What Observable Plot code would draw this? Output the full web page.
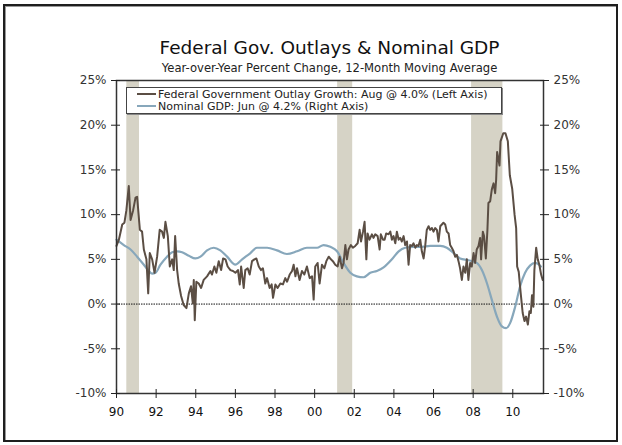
<!DOCTYPE html>
<html>
<head>
<meta charset="utf-8">
<script src="https://cdn.jsdelivr.net/npm/d3@7"></script>
<script src="https://cdn.jsdelivr.net/npm/@observablehq/plot@0.6"></script>
<style>
  html, body { margin: 0; padding: 0; background: #fff; }
  #wrap { position: relative; width: 622px; height: 445px; overflow: hidden; font-family: "DejaVu Sans", Verdana, sans-serif; color: #222; }
  #frame { position: absolute; left: 3px; top: 4px; width: 615px; height: 438px; box-sizing: border-box; border: 2px solid #1e1e1e; box-shadow: inset 1px 1px 0 #999; }
  #title { position: absolute; left: 116px; width: 427px; top: 37px; text-align: center; font-size: 18.5px; color: #111; white-space: nowrap; }
  #subtitle { position: absolute; left: 116px; width: 427px; top: 61px; text-align: center; font-size: 11.6px; color: #222; white-space: nowrap; }
  #chart { position: absolute; left: 0; top: 0; }
  #legend { position: absolute; left: 126px; top: 87px; width: 376px; height: 27px; box-sizing: border-box; border: 1px solid #444; background: #fff; font-size: 11px; color: #222; box-shadow: 1px 1px 0 #888; }
  .row { position: absolute; left: 10px; height: 13px; line-height: 13px; white-space: nowrap; }
  .sw { display: inline-block; width: 19px; height: 2px; vertical-align: middle; margin-right: 2px; position: relative; top: -1px; }
</style>
</head>
<body>
<div id="wrap">
  <div id="frame"></div>
  <div id="chart"></div>
  <div id="title">Federal Gov. Outlays &amp; Nominal GDP</div>
  <div id="subtitle">Year-over-Year Percent Change, 12-Month Moving Average</div>
  <div id="legend">
    <div class="row" style="top:0px"><span class="sw" style="background:#5b4e44"></span>Federal Government Outlay Growth: Aug @ 4.0% (Left Axis)</div>
    <div class="row" style="top:12px"><span class="sw" style="background:#87a7bb"></span>Nominal GDP: Jun @ 4.2% (Right Axis)</div>
  </div>
</div>
<script>
// Federal government outlay growth (decimal year, % YoY, 12-mo avg)
const outlayDates = [
  1990.00,1990.12,1990.29,1990.40,1990.50,1990.62,1990.71,1990.84,1990.96,1991.04,
  1991.18,1991.29,1991.38,1991.51,1991.60,1991.68,1991.80,1991.92,1992.05,1992.18,
  1992.30,1992.39,1992.47,1992.59,1992.69,1992.81,1992.89,1992.96,1993.06,1993.14,
  1993.26,1993.39,1993.53,1993.65,1993.76,1993.85,1993.90,1993.95,1994.03,1994.15,
  1994.27,1994.40,1994.57,1994.74,1994.82,1994.94,1995.04,1995.16,1995.28,1995.38,
  1995.50,1995.61,1995.75,1995.88,1996.00,1996.13,1996.22,1996.29,1996.42,1996.50,
  1996.62,1996.72,1996.84,1996.96,1997.06,1997.18,1997.29,1997.39,1997.51,1997.60,
  1997.73,1997.83,1997.90,1998.02,1998.13,1998.27,1998.40,1998.52,1998.61,1998.74,
  1998.86,1998.94,1999.03,1999.11,1999.24,1999.36,1999.48,1999.61,1999.75,1999.87,
  1999.95,2000.03,2000.15,2000.25,2000.37,2000.49,2000.59,2000.71,2000.82,2000.92,
  2001.04,2001.16,2001.26,2001.38,2001.46,2001.55,2001.63,2001.71,2001.83,2001.93,
  2002.05,2002.17,2002.27,2002.34,2002.44,2002.52,2002.61,2002.67,2002.77,2002.89,
  2002.97,2003.06,2003.18,2003.28,2003.34,2003.45,2003.53,2003.61,2003.73,2003.82,
  2003.90,2003.98,2004.07,2004.15,2004.24,2004.32,2004.40,2004.49,2004.57,2004.66,
  2004.74,2004.82,2004.91,2004.99,2005.08,2005.16,2005.24,2005.33,2005.41,2005.50,
  2005.58,2005.66,2005.75,2005.83,2005.92,2006.00,2006.08,2006.17,2006.25,2006.34,
  2006.42,2006.50,2006.59,2006.67,2006.76,2006.84,2006.92,2007.01,2007.09,2007.18,
  2007.26,2007.34,2007.43,2007.51,2007.60,2007.68,2007.76,2007.85,2007.93,2008.02,
  2008.10,2008.18,2008.27,2008.35,2008.40,2008.49,2008.55,2008.64,2008.72,2008.77,
  2008.86,2008.94,2009.03,2009.11,2009.16,2009.21,2009.33,2009.38,2009.52,2009.63,
  2009.75,2009.85,2009.97,2010.09,2010.17,2010.22,2010.30,2010.40,2010.50,2010.59,
  2010.67,2010.76,2010.84,2010.91,2010.97,2011.04,2011.09,2011.18,2011.26,2011.34,
  2011.43,2011.51
];
const outlayValues = [
  6.5,7.2,8.9,9.1,10.5,13.2,9.4,10.5,11.9,12.0,
  8.3,8.1,6.1,5.0,1.2,5.7,5.0,3.5,5.3,8.3,
  8.1,7.4,9.2,7.6,4.2,5.0,3.8,7.6,3.8,2.3,
  0.9,-0.1,-0.45,1.2,2.0,0.1,2.7,-1.8,2.5,2.3,
  1.8,2.7,3.1,3.7,3.3,4.2,3.5,4.8,3.8,5.1,
  5.0,4.2,3.8,3.7,3.5,3.8,2.2,4.2,1.8,3.8,
  4.0,3.3,4.8,5.0,5.1,4.2,3.8,4.0,2.3,2.9,
  1.8,2.2,0.7,2.2,1.8,2.3,2.2,2.9,2.5,3.3,
  3.7,4.4,3.1,4.0,2.7,3.7,3.3,4.2,2.9,3.1,
  0.5,4.2,4.6,2.3,4.4,4.0,4.8,5.3,5.0,4.8,
  4.4,4.2,5.3,4.0,4.6,6.6,5.0,6.1,6.6,6.3,
  6.5,6.8,8.3,7.0,8.1,9.2,5.0,7.9,7.2,7.8,
  7.4,7.8,7.6,6.1,7.8,7.2,7.2,7.9,7.8,8.1,
  7.2,7.6,6.8,8.1,7.2,7.4,7.0,7.6,6.6,7.0,
  4.4,6.6,6.5,6.8,6.3,6.6,6.5,7.2,5.9,5.1,
  6.5,8.3,8.7,8.3,8.5,8.1,8.5,8.3,7.0,8.7,
  8.9,9.1,8.9,8.1,7.9,6.6,6.3,5.9,5.3,5.5,
  4.8,4.0,2.7,4.2,3.5,5.0,2.7,4.6,4.2,5.7,
  4.6,6.1,6.5,7.4,5.0,8.1,7.6,5.1,8.3,11.3,
  11.5,12.8,13.5,12.4,13.9,17.0,15.5,18.2,19.1,19.1,
  18.2,14.4,12.9,10.0,8.5,4.2,3.6,1.2,-1.0,-1.9,
  -1.4,-2.3,-0.8,-1.0,1.0,-0.3,3.8,6.3,5.0,4.4,
  3.3,2.7
];
// Nominal GDP growth (decimal year, % YoY)
const gdpDates = [
  1990.00,1990.37,1990.71,1991.04,1991.38,1991.63,1991.80,1991.97,1992.22,1992.55,
  1992.81,1993.06,1993.31,1993.65,1993.98,1994.24,1994.57,1994.91,1995.24,1995.58,
  1996.00,1996.34,1996.76,1997.09,1997.60,1998.10,1998.60,1999.11,1999.61,2000.12,
  2000.45,2000.79,2001.13,2001.46,2001.80,2002.13,2002.47,2002.81,2003.14,2003.48,
  2003.90,2004.24,2004.57,2004.99,2005.41,2005.83,2006.34,2006.67,2007.01,2007.34,
  2007.76,2008.18,2008.44,2008.70,2008.94,2009.20,2009.45,2009.66,2009.87,2010.12,
  2010.37,2010.62,2010.87,2011.13,2011.42
];
const gdpValues = [
  7.2,6.6,6.1,5.3,4.4,3.7,3.4,3.5,4.4,5.3,
  5.8,5.9,5.8,5.4,5.1,5.3,6.0,6.3,6.0,5.3,
  4.4,5.0,5.7,6.3,6.3,6.0,5.6,5.9,6.3,6.3,
  6.6,6.4,5.9,4.6,3.5,3.1,3.0,3.5,3.7,4.1,
  5.0,5.9,6.3,6.4,6.4,6.5,6.5,6.3,5.7,5.1,
  4.9,4.6,3.8,2.3,0.5,-1.4,-2.5,-2.7,-2.1,-0.3,
  2.0,3.5,4.3,4.6,4.2
];
// Recessions (decimal years)
const recessionStarts = [1990.52, 2001.16, 2007.92];
const recessionEnds   = [1991.16, 2001.92, 2009.50];
// Tick labels
const yearTicks = [1990,1992,1994,1996,1998,2000,2002,2004,2006,2008,2010];
const yearLabels = ["90","92","94","96","98","00","02","04","06","08","10"];
const pctTicks = [-10,-5,0,5,10,15,20,25];

const outlays = outlayDates.map((d, i) => ({date: d, value: outlayValues[i]}));
const gdp = gdpDates.map((d, i) => ({date: d, value: gdpValues[i]}));
const recessions = recessionStarts.map((s, i) => ({start: s, end: recessionEnds[i]}));
const fmtYear = d => yearLabels[yearTicks.indexOf(d)];
const fmtPct = d => d + "%";
const blank = () => "";

const chart = Plot.plot({
  width: 622,
  height: 445,
  marginLeft: 116,
  marginRight: 79,
  marginTop: 80,
  marginBottom: 52,
  style: {fontFamily: "DejaVu Sans, Verdana, sans-serif", fontSize: "12px", color: "#333", background: "transparent", overflow: "visible"},
  x: {domain: [1990, 2011.55]},
  y: {domain: [-10, 25]},
  marks: [
    Plot.rect(recessions, {x1: "start", x2: "end", fill: "#d6d3c6"}),
    Plot.ruleY([0], {stroke: "#111", strokeWidth: 1, strokeDasharray: "1.5,1"}),
    Plot.line(gdp, {x: "date", y: "value", stroke: "#87a7bb", strokeWidth: 2.2, curve: "monotone-x"}),
    Plot.line(outlays, {x: "date", y: "value", stroke: "#5b4e44", strokeWidth: 2}),
    Plot.frame({stroke: "#333", strokeWidth: 1.5}),
    Plot.axisY(pctTicks, {anchor: "left", tickSize: 9, dx: 4, tickFormat: blank, label: null, stroke: "#222"}),
    Plot.axisY(pctTicks, {anchor: "left", tickSize: 0, tickPadding: 10, tickFormat: fmtPct, label: null, fill: "#333"}),
    Plot.axisY(pctTicks, {anchor: "right", tickSize: 9, dx: -4, tickFormat: blank, label: null, stroke: "#222"}),
    Plot.axisY(pctTicks, {anchor: "right", tickSize: 0, tickPadding: 10, tickFormat: fmtPct, label: null, fill: "#333"}),
    Plot.axisX(yearTicks, {anchor: "bottom", tickSize: 9, dy: -4, tickFormat: blank, label: null, stroke: "#222"}),
    Plot.axisX(yearTicks, {anchor: "bottom", tickSize: 0, tickPadding: 14, tickFormat: fmtYear, label: null, fill: "#111"})
  ]
});
document.getElementById("chart").appendChild(chart);
</script>
</body>
</html>
